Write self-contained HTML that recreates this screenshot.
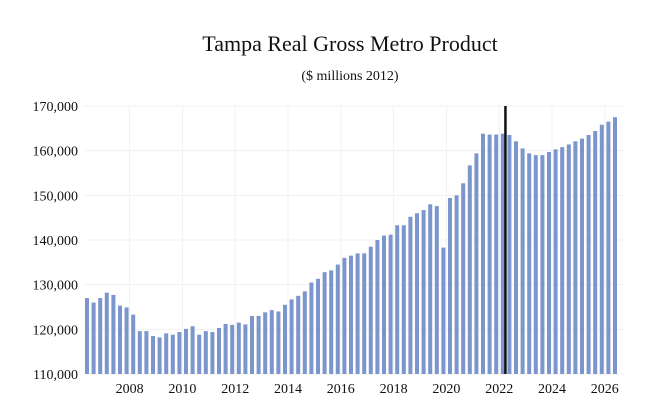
<!DOCTYPE html>
<html><head><meta charset="utf-8"><style>
body{margin:0;background:#fff;}
svg{display:block;font-family:"Liberation Serif",serif;}
</style></head><body>
<svg id="chart" width="658" height="420">
<text x="350" y="51" text-anchor="middle" font-size="22" fill="#111">Tampa Real Gross Metro Product</text>
<text x="350" y="80" text-anchor="middle" font-size="14" fill="#111">($ millions 2012)</text>
<g id="grid"></g><g id="bars"></g><g id="axes"></g>
</svg>
<script>
const values=[127000,126000,127000,128200,127700,125300,124900,123300,119600,119600,118500,118200,119100,118800,119400,120100,120700,118800,119600,119400,120300,121200,121000,121500,121100,123000,123000,123800,124300,124000,125500,126700,127500,128500,130500,131300,132800,133200,134500,136000,136500,137000,137000,138500,140000,141000,141200,143300,143300,145200,146000,146700,148000,147600,138300,149400,150000,152700,156700,159400,163800,163600,163600,163800,163500,162100,160500,159400,159000,159000,159700,160300,160800,161400,162100,162700,163500,164400,165800,166500,167500];
const startYear=2006.5;
const yTicks=[110000,120000,130000,140000,150000,160000,170000];
const xTicks=[2008,2010,2012,2014,2016,2018,2020,2022,2024,2026];
const markerTime=2022.35;
const NS="http://www.w3.org/2000/svg";
const y=v=>374-(v-110000)*268/60000;
const x=t=>87+(t-startYear)*4*6.6;
const svg=document.getElementById('chart');
const grid=document.getElementById('grid'),bars=document.getElementById('bars'),axes=document.getElementById('axes');
function mk(tag,attrs,parent){const e=document.createElementNS(NS,tag);for(const k in attrs)e.setAttribute(k,attrs[k]);parent.appendChild(e);return e;}
yTicks.forEach(v=>{
  const l=mk('line',{x1:84,x2:625,y1:y(v),y2:y(v),stroke:'#f0f0f0'},grid);
  
  
  const t=mk('text',{x:78,y:y(v)+5,'text-anchor':'end','font-size':14,fill:'#111'},axes);
  t.textContent=v.toLocaleString('en-US');
  
  
});
xTicks.forEach(yr=>{
  const l=mk('line',{x1:x(yr)+3,x2:x(yr)+3,y1:106,y2:374,stroke:'#f2f2f2'},grid);
  
  
  const t=mk('text',{x:x(yr)+3,y:393,'text-anchor':'middle','font-size':14,fill:'#111'},axes);
  t.textContent=yr;
  
  
});
values.forEach((v,i)=>{
  const cx=x(startYear+i/4);
  const r=mk('rect',{x:cx-2,y:y(v),width:4,height:374-y(v),fill:'#7b96cc'},bars);
  
  
});
const mx=x(markerTime);
const m=mk('line',{x1:mx,x2:mx,y1:106,y2:374,stroke:'#111','stroke-width':2.5},axes);


</script>
</body></html>
